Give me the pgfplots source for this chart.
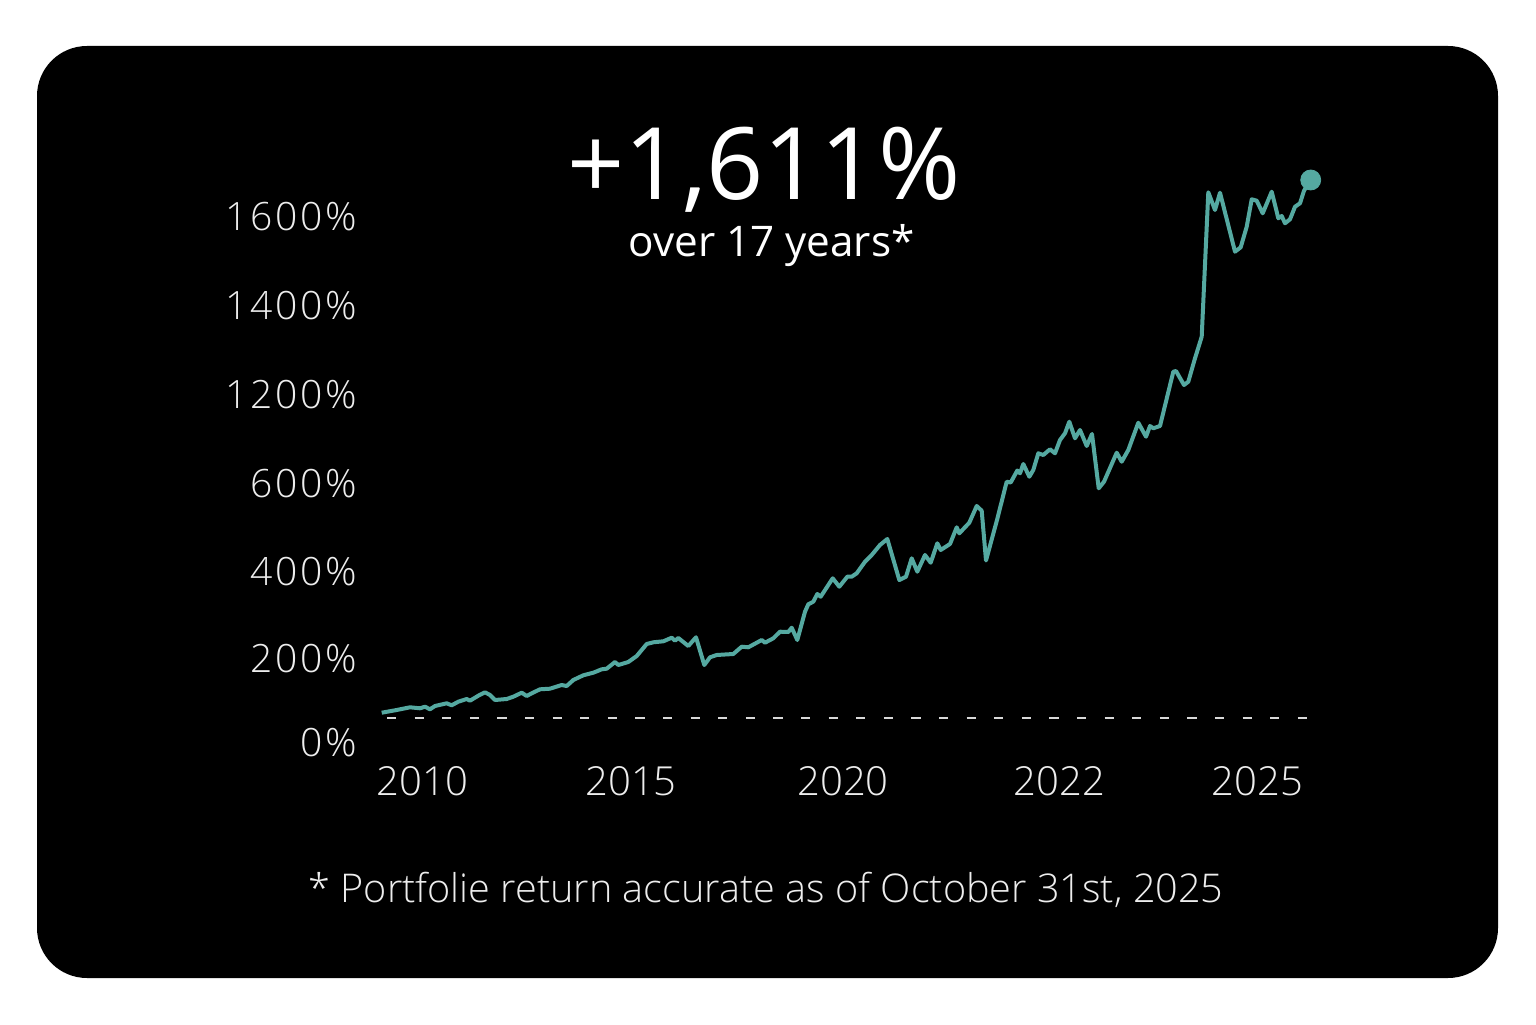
\documentclass[border=0pt]{standalone}
\usepackage{pgfplots}
\pgfplotsset{compat=1.18}
\usepackage{fontspec}
\setmainfont{Open Sans}
\newfontfamily\lightfont{Open Sans Light}
\newfontfamily\lightwide{Open Sans Light}[LetterSpace=7]

\definecolor{linecol}{HTML}{55A9A1}
\definecolor{labelgray}{HTML}{EDEDED}
\definecolor{dashgray}{HTML}{D8D8D8}

\begin{document}
\begin{tikzpicture}
\useasboundingbox (0,0) rectangle (768pt,512pt);
\fill[white] (0,0) rectangle (768pt,512pt);
\fill[black, rounded corners=25pt] (18.5pt,23pt) rectangle (749pt,489pt);
\begin{axis}[
  at={(185pt,120pt)}, anchor=south west,
  x=0.5pt, y=0.5pt,
  xmin=370, xmax=1330, ymin=240, ymax=860,
  axis line style={draw=none},
  major tick length=0pt,
  xtick={422.5,631,843,1059.5,1257.5},
  xticklabels={2010,2015,2020,2022,2025},
  ytick={281,365,452,540,629,718,807},
  yticklabels={0\%,200\%,400\%,600\%,1200\%,1400\%,1600\%},
  xticklabel style={anchor=center, inner sep=0pt, yshift=1.5pt,
    font=\lightfont\fontsize{20}{20}\selectfont, text=labelgray},
  yticklabel style={anchor=east, inner sep=0pt, xshift=-6.5pt,
    font=\lightwide\fontsize{19.5}{19.5}\selectfont, text=labelgray},
  clip=false,
]
% 0% baseline
\addplot[dashgray, line width=1pt, dash pattern=on 4.6pt off 9.2pt]
  coordinates {(387,306) (1312,306)};
% portfolio return, traced in picture units
\addplot[linecol, line width=2pt, line join=round] coordinates {
(381.7,311.3) (396.7,314) (410,316.7) (420,315.7) (425,317.3) (430,314.7)
(435,318) (446.7,320.7) (451.7,318.7) (458.3,322.3) (466.7,325) (470,323.3)
(478.3,328.3) (485,331.7) (490,329) (495,324) (506.7,325) (513.3,327.3)
(521.7,331.3) (526.7,328) (531.7,330.7) (540,334.7) (550,335.3) (561.7,339)
(566.7,338) (573.3,344) (583.3,348.7) (593.3,351.3) (601.7,354.7) (606.7,355.3)
(615,362) (618.3,359) (628.3,362) (636.7,368) (646.7,380) (653.3,381.7)
(663.3,382.7) (671.7,386.3) (675,383.3) (678.3,386) (688.3,378) (696,386.7)
(704.3,359) (710,366.7) (716.7,369) (733.3,370) (741.7,377.3) (748.3,376.7)
(761.7,384) (765,381.3) (773.3,385.7) (780,392.3) (788.3,392) (791.7,396.3)
(797.3,384) (805,412.3) (808.3,419.7) (813.3,422.3) (817.3,430) (820.7,427.3)
(832.7,445.7) (839.3,437.3) (847.3,447.3) (851.7,447.3) (856.7,450.7) (865,462.3)
(871.7,469) (880,479) (887.3,485) (899.3,444) (906,447.3) (911.7,465.7)
(917.3,452.3) (925,469) (930.7,461.3) (937.3,480.7) (940.7,474) (950,480)
(956.7,496.7) (959.3,490.7) (969.3,501.3) (976.7,518) (981.7,513.3) (986,463.5)
(997,504) (1006.7,542.3) (1010.7,541.5) (1017.3,553.5) (1020,550.7) (1023.3,560)
(1029.3,547.3) (1033.3,554) (1038.3,570.7) (1043.3,569) (1050,574.7) (1055,570.7)
(1060,584) (1065,590.7) (1069.3,602.3) (1075,585.7) (1080,594) (1086.7,578)
(1092,590) (1098.7,535.7) (1104,542.3) (1116.7,571.3) (1121.7,562.3) (1128.3,574)
(1138.3,601.3) (1146,587.3) (1150,598) (1153.3,595.7) (1160,598) (1173.3,652.3)
(1176,653) (1184,639) (1188.3,642.3) (1195,665.7) (1201.7,687.3) (1208.3,831.7)
(1215,814) (1220,831.3) (1235,772.3) (1240.7,776.7) (1246.7,797.3) (1251.7,824.7)
(1256.7,823.3) (1262.7,810.7) (1271.7,832.3) (1278.3,805.7) (1281.7,808) (1285,800.7)
(1290,804.7) (1295,817.3) (1300,820.7) (1304,833.3) (1310.7,844)
};
% latest value
\addplot[only marks, mark=*, mark size=5pt, color=linecol] coordinates {(1310.7,844)};
\end{axis}
\node[anchor=base, text=white, inner sep=0pt, font=\fontsize{50}{50}\selectfont]
  at (382pt,412pt) {+1,611\%};
\node[anchor=base, text=white, inner sep=0pt, font=\fontsize{21.1}{21.1}\selectfont]
  at (385.75pt,383.5pt) {over 17 years*};
\node[anchor=base, text=labelgray, inner sep=0pt, font=\lightfont\fontsize{19.8}{19.8}\selectfont]
  at (383pt,61pt) {* Portfolie return accurate as of October 31st, 2025};
\end{tikzpicture}
\end{document}
